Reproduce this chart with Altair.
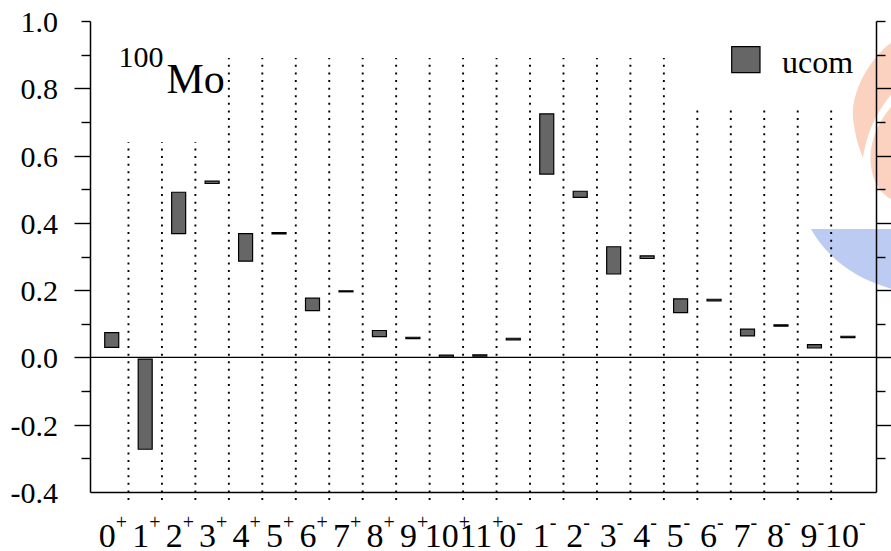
import altair as alt
import pandas as pd

# Multipole labels (J and parity) and the ucom ranges for each
digits = ["0", "1", "2", "3", "4", "5", "6", "7", "8", "9", "10", "11",
          "0", "1", "2", "3", "4", "5", "6", "7", "8", "9", "10"]
signs = ["+"] * 12 + ["-"] * 11
ucom_lo = [0.030, -0.273, 0.368, 0.517, 0.286, 0.367, 0.139, 0.195, 0.062, 0.056, 0.001, 0.004,
           0.052, 0.545, 0.476, 0.248, 0.294, 0.133, 0.168, 0.064, 0.093, 0.028, 0.059]
ucom_hi = [0.074, -0.005, 0.491, 0.524, 0.368, 0.371, 0.176, 0.198, 0.080, 0.060, 0.007, 0.008,
           0.057, 0.724, 0.494, 0.329, 0.302, 0.174, 0.173, 0.084, 0.097, 0.038, 0.063]

# Heights of the dotted separators between neighbouring multipoles
sep_tops = [0.64, 0.64, 0.64,
            0.89, 0.89, 0.89, 0.89, 0.89, 0.89, 0.89, 0.89, 0.89, 0.89, 0.89, 0.89, 0.89, 0.89,
            0.75, 0.75, 0.75, 0.75, 0.75]
sep_bottom = -0.424

# y axis: labelled values, long ticks and short ticks
y_label_values = [-0.4, -0.2, 0.0, 0.2, 0.4, 0.6, 0.8, 1.0]
y_label_texts = ["-0.4", "-0.2", "0.0", "0.2", "0.4", "0.6", "0.8", "1.0"]
major_ticks = [-0.4, -0.2, 0.0, 0.2, 0.4, 0.6, 0.8]
minor_ticks = [-0.3, -0.1, 0.1, 0.3, 0.5, 0.7, 0.9, 1.0]

FONT = "Liberation Serif"
BAR_FILL = "#666666"

pos = list(range(1, len(digits) + 1))
bars = pd.DataFrame({"pos": pos, "lo": ucom_lo, "hi": ucom_hi})
labels = pd.DataFrame({"pos": pos, "digit": digits, "sign": signs})
seps = pd.DataFrame({"pos": [k + 0.5 for k in range(1, len(sep_tops) + 1)],
                     "bottom": [sep_bottom] * len(sep_tops), "top": sep_tops})
ylabels = pd.DataFrame({"v": y_label_values, "text": y_label_texts})
one = pd.DataFrame({"zero": [0.0]})

W, H = 786, 471
X_SCALE = alt.Scale(domain=[0.5, 23.69], nice=False, zero=False)
Y_SCALE = alt.Scale(domain=[-0.4, 1.0], nice=False, zero=False)

X_AXIS = alt.Axis(title=None, labels=False, ticks=False, grid=False, domain=True,
                  domainColor="black", domainWidth=1.5, zindex=1)
X = alt.X("pos:Q", scale=X_SCALE, axis=X_AXIS)


def y_axis(orient, values, size, domain, hide_bottom=False):
    kw = dict(orient=orient, values=values, tickSize=size, tickWidth=1.4, tickColor="black",
              domain=domain, domainColor="black", domainWidth=1.5, grid=False, title=None,
              zindex=1, labels=False)
    if hide_bottom:
        kw["tickOpacity"] = {"condition": {"test": "datum.value < -0.35", "value": 0}, "value": 1}
    return alt.Axis(**kw)


LEFT_MAJOR = y_axis("left", major_ticks, 16, True, hide_bottom=True)
LEFT_MINOR = y_axis("left", minor_ticks, 9, False)
RIGHT_MAJOR = y_axis("right", major_ticks, 16, True, hide_bottom=True)
RIGHT_MINOR = y_axis("right", minor_ticks, 9, False)

# Faint logo in the background at the right edge
bowl_path = "M-0.59,0.79 C-0.44,1.06 -0.15,1.32 0.35,1.42 L0.9,1.42 L0.9,0.79 Z"
flame_path = ("M0.27,-1.12 C-0.05,-0.90 -0.22,-0.50 -0.16,-0.25 C-0.14,-0.10 -0.10,0.00 -0.07,0.08 "
              "C-0.04,-0.10 0.02,-0.35 0.27,-0.62 Z "
              "M0.27,-0.50 C0.08,-0.30 -0.04,-0.05 0.02,0.22 C0.06,0.38 0.14,0.47 0.27,0.52 Z")
bowl = alt.Chart(one).mark_point(shape=bowl_path, size=40000, filled=True, fill="#BCCBF2",
                                 strokeWidth=0, opacity=1).encode(
    x=alt.value(780), y=alt.value(129))
flame = alt.Chart(one).mark_point(shape=flame_path, size=40000, filled=True, fill="#FBD2BF",
                                  strokeWidth=0, opacity=1).encode(
    x=alt.value(780), y=alt.value(129))

separators = alt.Chart(seps).mark_rule(color="black", strokeWidth=1.9, strokeDash=[2, 5.6]).encode(
    x=X,
    y=alt.Y("bottom:Q", scale=Y_SCALE, axis=LEFT_MAJOR),
    y2="top:Q",
)

zero_line = alt.Chart(one).mark_rule(color="black", strokeWidth=1.3).encode(
    y=alt.Y("zero:Q", scale=Y_SCALE, axis=RIGHT_MAJOR),
    x=alt.value(0), x2=alt.value(W),
)

bar_layer = alt.Chart(bars).mark_bar(size=14, fill=BAR_FILL, stroke="black", strokeWidth=1.2).encode(
    x=X,
    y=alt.Y("lo:Q", scale=Y_SCALE, axis=LEFT_MINOR),
    y2="hi:Q",
)

right_minor = alt.Chart(one).mark_rule(opacity=0).encode(
    y=alt.Y("zero:Q", scale=Y_SCALE, axis=RIGHT_MINOR),
    x=alt.value(0), x2=alt.value(1),
)

# y tick labels, set in the serif face beside the long ticks
y_text = alt.Chart(ylabels).mark_text(font=FONT, fontSize=30, align="right",
                                      baseline="alphabetic", dy=11, color="black").encode(
    y=alt.Y("v:Q", scale=Y_SCALE, axis=None),
    x=alt.value(-32),
    text="text:N",
)


def tick_labels(sign, ndig, dx):
    base = alt.Chart(labels).transform_filter(
        f"datum.sign == '{sign}' && length(datum.digit) == {ndig}")
    dig = base.mark_text(font=FONT, fontSize=34, align="right", baseline="alphabetic",
                         dx=dx, color="black").encode(x=X, y=alt.value(526), text="digit:N")
    sup = base.mark_text(font=FONT, fontSize=20, align="left", baseline="alphabetic",
                         dx=dx, color="black").encode(x=X, y=alt.value(508), text="sign:N")
    return [dig, sup]


label_layers = (tick_labels("+", 1, 4) + tick_labels("+", 2, 12.5)
                + tick_labels("-", 1, 3) + tick_labels("-", 2, 11))

nucleus_mass = alt.Chart(one).mark_text(font=FONT, fontSize=30, align="left",
                                        baseline="alphabetic", color="black").encode(
    x=alt.value(28.5), y=alt.value(46), text=alt.value("100"))
nucleus_sym = alt.Chart(one).mark_text(font=FONT, fontSize=42, align="left",
                                       baseline="alphabetic", color="black").encode(
    x=alt.value(76.5), y=alt.value(72), text=alt.value("Mo"))

legend_box = alt.Chart(one).mark_rect(fill=BAR_FILL, stroke="black", strokeWidth=1.2).encode(
    x=alt.value(641.7), x2=alt.value(670), y=alt.value(25.7), y2=alt.value(51.7))
legend_text = alt.Chart(one).mark_text(font=FONT, fontSize=32, align="left",
                                       baseline="alphabetic", color="black").encode(
    x=alt.value(692), y=alt.value(51.7), text=alt.value("ucom"))

chart = alt.layer(
    bowl, flame, separators, zero_line, bar_layer, right_minor, y_text,
    *label_layers, nucleus_mass, nucleus_sym, legend_box, legend_text,
).resolve_scale(y="independent").resolve_axis(y="independent").properties(
    width=W, height=H,
    autosize=alt.AutoSizeParams(type="none"),
    padding={"left": 90, "top": 21, "right": 15, "bottom": 59},
    background="white",
).configure_view(stroke=None)

chart.save("out.html", embed_options={"renderer": "svg", "actions": False})
